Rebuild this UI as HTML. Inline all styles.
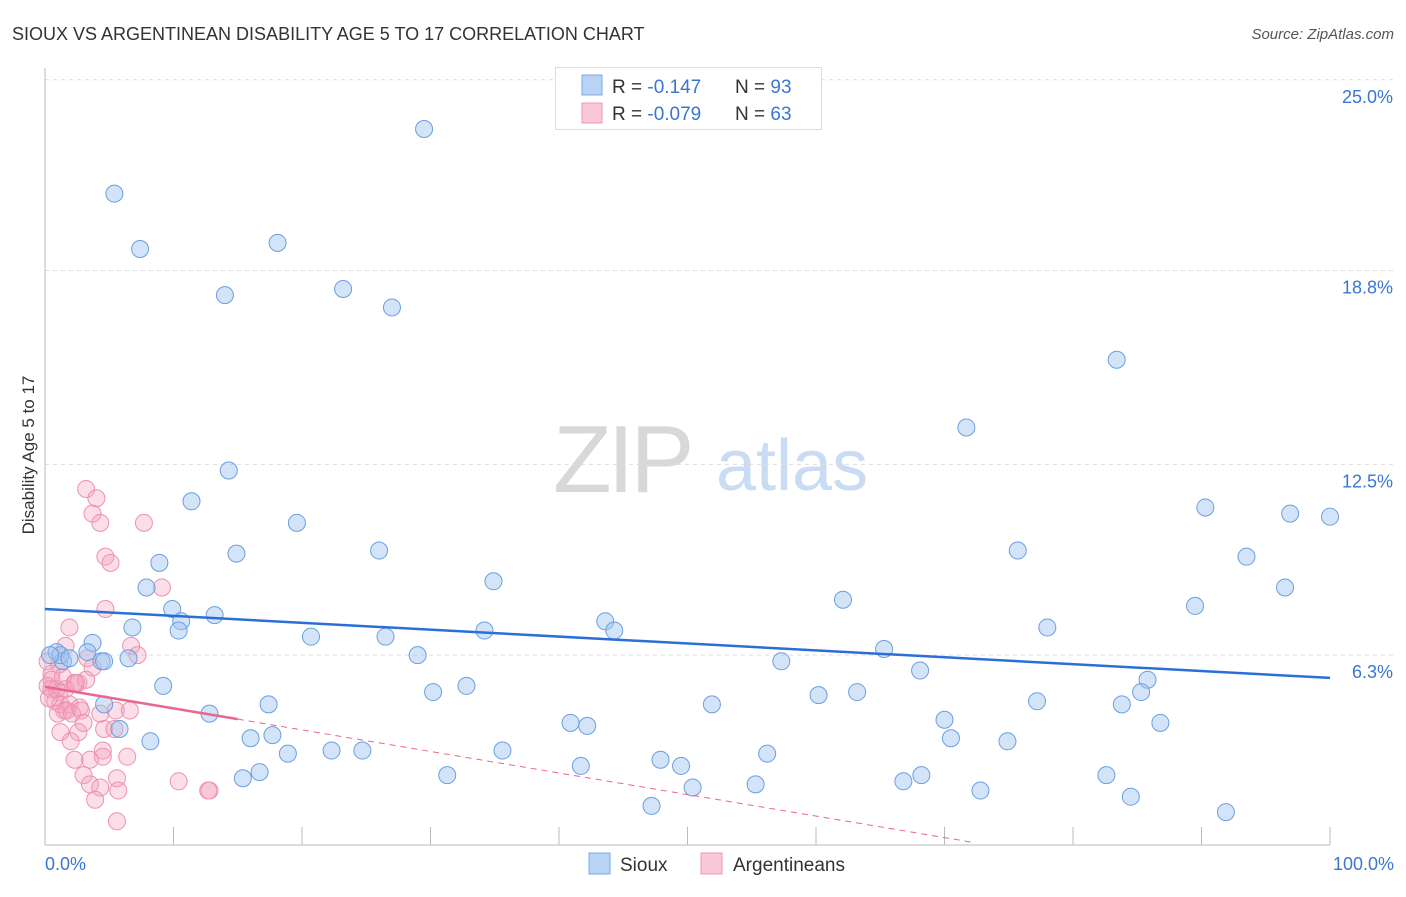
<!DOCTYPE html>
<html><head><meta charset="utf-8"><style>
body{margin:0;background:#fff;font-family:"Liberation Sans",sans-serif;}
svg text{font-family:"Liberation Sans",sans-serif;}
</style></head><body>
<svg id="chart" width="1406" height="892" viewBox="0 0 1406 892" xmlns="http://www.w3.org/2000/svg">
<text x="12" y="40" font-size="18" fill="#333">SIOUX VS ARGENTINEAN DISABILITY AGE 5 TO 17 CORRELATION CHART</text>
<text x="1394" y="39" font-size="15" fill="#555" text-anchor="end" font-style="italic">Source: ZipAtlas.com</text>
<g>
<text x="553" y="492" font-size="96" fill="#d8d8d8" font-family="Liberation Serif" letter-spacing="-4">ZIP</text>
<text x="716" y="490" font-size="72" fill="#c9dcf3">atlas</text>
</g>
<g id="grid"></g>
<g id="axes"></g>
<g id="pinkPts"></g>
<g id="bluePts"></g>
<g id="lines"></g>
<text transform="translate(34,455) rotate(-90)" font-size="17" fill="#333" text-anchor="middle">Disability Age 5 to 17</text>
<g>
<rect x="555.5" y="67.5" width="266" height="62" fill="#fff" stroke="#ddd"/>
<rect x="582" y="75" width="20" height="20" fill="#b9d3f5" stroke="#7aa8e6"/>
<rect x="582" y="103" width="20" height="20" fill="#f9c8d6" stroke="#ee9ab3"/>
<text x="612" y="93" font-size="19" fill="#333">R = <tspan fill="#3a76d3"> -0.147</tspan></text>
<text x="735" y="93" font-size="19" fill="#333">N = <tspan fill="#3a76d3">93</tspan></text>
<text x="612" y="120" font-size="19" fill="#333">R = <tspan fill="#3a76d3">-0.079</tspan></text>
<text x="735" y="120" font-size="19" fill="#333">N = <tspan fill="#3a76d3">63</tspan></text>
</g>
<g>
<rect x="589" y="853" width="21" height="21" fill="#b9d3f5" stroke="#7aa8e6"/>
<text x="620" y="871" font-size="19" fill="#333">Sioux</text>
<rect x="701" y="853" width="21" height="21" fill="#f9c8d6" stroke="#ee9ab3"/>
<text x="733" y="871" font-size="19" fill="#333">Argentineans</text>
</g>
</svg>
<script>
const yTicks=[6.3,12.5,18.8,25.0];
const yTickLabels=["6.3%","12.5%","18.8%","25.0%"];
const xTickLabels=["0.0%","100.0%"];
const siouxX=[29.5,5.4,7.4,18.1,14.0,23.2,27.0,83.4,71.7,14.3,11.4,19.6,90.3,96.9,100,14.9,8.9,26.0,75.7,93.5,7.9,34.9,96.5,62.1,9.9,13.2,10.6,89.5,43.6,44.3,6.8,10.4,34.2,78.0,20.7,26.5,3.7,0.9,3.3,1.4,4.4,6.5,29.0,57.3,65.3,68.1,9.2,32.8,30.2,85.8,85.3,60.2,63.2,17.4,4.6,12.8,51.9,77.2,83.8,40.9,42.2,70.0,86.8,5.8,8.2,16.0,17.7,70.5,74.9,18.9,22.3,24.7,35.6,56.2,47.9,49.5,41.7,31.3,15.4,16.7,82.6,68.2,66.8,50.4,55.3,72.8,84.5,47.2,91.9,1.2,0.4,1.9,4.6];
const siouxY=[23.4,21.3,19.5,19.7,18.0,18.2,17.6,15.9,13.7,12.3,11.3,10.6,11.1,10.9,10.8,9.6,9.3,9.7,9.7,9.5,8.5,8.7,8.5,8.1,7.8,7.6,7.4,7.9,7.4,7.1,7.2,7.1,7.1,7.2,6.9,6.9,6.7,6.4,6.4,6.1,6.1,6.2,6.3,6.1,6.5,5.8,5.3,5.3,5.1,5.5,5.1,5.0,5.1,4.7,4.7,4.4,4.7,4.8,4.7,4.1,4.0,4.2,4.1,3.9,3.5,3.6,3.7,3.6,3.5,3.1,3.2,3.2,3.2,3.1,2.9,2.7,2.7,2.4,2.3,2.5,2.4,2.4,2.2,2.0,2.1,1.9,1.7,1.4,1.2,6.3,6.3,6.2,6.1];
const argX=[3.2,4.0,3.7,4.3,7.7,4.7,5.1,9.1,4.7,1.9,1.6,6.7,7.2,3.3,3.7,1.1,0.5,2.3,2.6,0.2,0.5,1.1,1.6,0.8,1.2,1.9,2.7,1.5,1.0,1.7,2.1,2.8,4.3,5.5,6.6,3.0,1.2,2.6,2.0,4.6,5.4,2.3,3.5,4.5,4.5,6.4,3.0,5.6,3.5,4.3,5.7,3.9,10.4,12.7,12.8,5.6,0.9,0.3,0.5,1.4,3.2,2.4,0.2];
const argY=[11.7,11.4,10.9,10.6,10.6,9.5,9.3,8.5,7.8,7.2,6.6,6.6,6.3,6.2,5.9,6.0,5.7,5.4,5.4,5.3,5.2,5.1,5.2,4.8,4.7,4.7,4.6,4.5,4.4,4.5,4.4,4.5,4.4,4.5,4.5,4.1,3.8,3.8,3.5,3.9,3.9,2.9,2.9,3.2,3.0,3.0,2.4,2.3,2.1,2.0,1.9,1.6,2.2,1.9,1.9,0.9,5.2,4.9,5.5,5.6,5.5,5.4,6.1];
const siouxTrend=[7.8,5.56];
const argTrend=[5.27,-0.07];
const argSolidEnd=15;
const argDashEnd=72.4;

const X0=45,X1=1330,Y0=849,YS=30.77;
const xs=v=>X0+v*(X1-X0)/100;
const ys=v=>Y0-v*YS;
const NS="http://www.w3.org/2000/svg";
function mk(tag,parent,attrs){const e=document.createElementNS(NS,tag);for(const k in attrs)e.setAttribute(k,attrs[k]);parent.appendChild(e);return e;}
const grid=document.getElementById('grid');
yTicks.forEach((t,i)=>{
 const l=mk('line',grid,{x1:X0,x2:1394,y1:ys(t),y2:ys(t),stroke:'#ddd','stroke-dasharray':'4,4'});
 
 
 const tx=mk('text',grid,{x:1393,y:ys(t)+23,'font-size':18,fill:'#3a76d3','text-anchor':'end'});
 tx.textContent=yTickLabels[i];
 
 
});
const ax=document.getElementById('axes');
const yl=mk('line',ax,{x1:X0,x2:X0,y1:68,y2:Y0-4,stroke:'#bbb'});


const xl=mk('line',ax,{x1:X0,x2:X1,y1:Y0-4,y2:Y0-4,stroke:'#bbb'});


for(let i=1;i<=10;i++){
 const t=mk('line',ax,{x1:xs(i*10),x2:xs(i*10),y1:Y0-4,y2:Y0-22,stroke:'#bbb'});
 
 
}
[[0,'start',X0],[1,'end',1394]].forEach(([i,a,x])=>{
 const t=mk('text',ax,{x:x,y:870,'font-size':18,fill:'#3a76d3','text-anchor':a});
 t.textContent=xTickLabels[i];
 
 
});
const pp=document.getElementById('pinkPts');
argX.forEach((v,i)=>{
 const c=mk('circle',pp,{cx:xs(v),cy:ys(argY[i]),r:8.5,fill:'rgba(244,160,188,0.35)',stroke:'#ec93ae','stroke-width':1});
 
 
});
const bp=document.getElementById('bluePts');
siouxX.forEach((v,i)=>{
 const c=mk('circle',bp,{cx:xs(v),cy:ys(siouxY[i]),r:8.5,fill:'rgba(160,196,240,0.45)',stroke:'#6a9fe0','stroke-width':1});
 
 
});
const ln=document.getElementById('lines');
const bl=mk('line',ln,{x1:xs(0),y1:ys(siouxTrend[0]),x2:xs(100),y2:ys(siouxTrend[1]),stroke:'#2a6fd6','stroke-width':2.5});


const pa=v=>argTrend[0]+argTrend[1]*v;
const ps=mk('line',ln,{x1:xs(0),y1:ys(pa(0)),x2:xs(argSolidEnd),y2:ys(pa(argSolidEnd)),stroke:'#e8668f','stroke-width':2.5});


const pd=mk('line',ln,{x1:xs(argSolidEnd),y1:ys(pa(argSolidEnd)),x2:xs(argDashEnd),y2:ys(pa(argDashEnd)),stroke:'#e8668f','stroke-width':1,'stroke-dasharray':'6,5'});


</script>
</body></html>
